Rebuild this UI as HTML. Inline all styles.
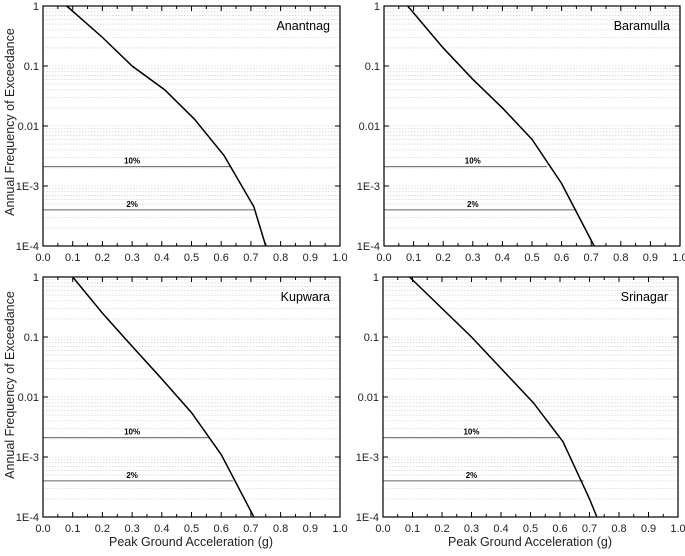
<!DOCTYPE html>
<html><head><meta charset="utf-8"><style>
body{margin:0;background:#fff}
svg{display:block;font-family:"Liberation Sans",Arial,sans-serif}
</style></head><body>
<svg id="c" width="685" height="556"></svg>
<script>
const xTicks=[0.0,0.1,0.2,0.3,0.4,0.5,0.6,0.7,0.8,0.9,1.0];
const yTickVals=[1,0.1,0.01,0.001,0.0001];
const yTickLabels=["1","0.1","0.01","1E-3","1E-4"];
const names=["Anantnag","Baramulla","Kupwara","Srinagar"];
const pgaAnantnag=[0.08,0.2,0.3,0.41,0.51,0.61,0.71,0.75];
const afeAnantnag=[1,0.3,0.1,0.04,0.013,0.0032,0.00045,0.0001];
const pgaBaramulla=[0.08,0.2,0.3,0.4,0.5,0.6,0.71];
const afeBaramulla=[1,0.2,0.06,0.02,0.006,0.0011,0.0001];
const pgaKupwara=[0.1,0.2,0.3,0.4,0.5,0.6,0.71];
const afeKupwara=[1,0.25,0.07,0.02,0.0055,0.0011,0.0001];
const pgaSrinagar=[0.09,0.3,0.4,0.51,0.61,0.7,0.725];
const afeSrinagar=[1,0.1,0.03,0.008,0.0018,0.0002,0.0001];
const levelValues=[0.0021,0.0004];
const levelLabels=["10%","2%"];
const levelEndAnantnag=[0.63,0.71];
const levelEndBaramulla=[0.55,0.65];
const levelEndKupwara=[0.56,0.64];
const levelEndSrinagar=[0.60,0.68];

const pgas=[pgaAnantnag,pgaBaramulla,pgaKupwara,pgaSrinagar];
const afes=[afeAnantnag,afeBaramulla,afeKupwara,afeSrinagar];
const ends=[levelEndAnantnag,levelEndBaramulla,levelEndKupwara,levelEndSrinagar];
const panels=[{x0:43,x1:340,y0:6,y1:246},{x0:384,x1:680,y0:6,y1:246},{x0:43,x1:340,y0:277,y1:517},{x0:383,x1:678,y0:277,y1:517}];
const svg=document.getElementById('c');
const NS="http://www.w3.org/2000/svg";
function mk(t,a,p){const e=document.createElementNS(NS,t);for(const k in a)e.setAttribute(k,a[k]);(p||svg).appendChild(e);return e;}
panels.forEach((P,i)=>{
  const g=mk('g',{});
  
  
  const X=v=>P.x0+v*(P.x1-P.x0);
  const Y=v=>P.y0+(-Math.log10(v))/4*(P.y1-P.y0);
  for(let d=0;d<4;d++)for(let m=1;m<10;m++){
    const v=m*Math.pow(10,-d-1);const y=Y(v);
    const l=mk('line',{x1:P.x0,x2:P.x1,y1:y,y2:y,stroke:'#c8c8c8','stroke-width':0.6,'stroke-dasharray':'1.5,1.5'},g);
    
  }
  xTicks.forEach(t=>{
    mk('line',{x1:X(t),x2:X(t),y1:P.y1,y2:P.y1-5,stroke:'#000','stroke-width':1},g);
    mk('line',{x1:X(t),x2:X(t),y1:P.y0,y2:P.y0+5,stroke:'#000','stroke-width':1},g);
    if(t<1){mk('line',{x1:X(t+0.05),x2:X(t+0.05),y1:P.y1,y2:P.y1-3,stroke:'#000'},g);mk('line',{x1:X(t+0.05),x2:X(t+0.05),y1:P.y0,y2:P.y0+3,stroke:'#000'},g);}
    const tx=mk('text',{x:X(t),y:P.y1+15,'font-size':11,'text-anchor':'middle',fill:'#222'},g);
    tx.textContent=t.toFixed(1);
    
  });
  yTickVals.forEach((v,j)=>{
    const y=Y(v);
    mk('line',{x1:P.x0,x2:P.x0+5,y1:y,y2:y,stroke:'#000'},g);
    mk('line',{x1:P.x1,x2:P.x1-5,y1:y,y2:y,stroke:'#000'},g);
    const tx=mk('text',{x:P.x0-4,y:y+4,'font-size':11,'text-anchor':'end',fill:'#222'},g);
    tx.textContent=yTickLabels[j];
    
  });
  levelValues.forEach((v,j)=>{
    const l=mk('line',{x1:P.x0,x2:X(ends[i][j]),y1:Y(v),y2:Y(v),stroke:'#666','stroke-width':1},g);
    
    const tx=mk('text',{x:X(0.3),y:Y(v)-3,'font-size':8,'font-weight':'bold','text-anchor':'middle'},g);
    tx.textContent=levelLabels[j];
    
  });
  const pts=pgas[i].map((p,k)=>X(p)+','+Y(afes[i][k])).join(' ');
  const pl=mk('polyline',{points:pts,fill:'none',stroke:'#000','stroke-width':1.5},g);
  
  const fr=mk('rect',{x:P.x0,y:P.y0,width:P.x1-P.x0,height:P.y1-P.y0,fill:'none',stroke:'#000','stroke-width':1.2},g);
  
  const nm=mk('text',{x:P.x1-10,y:P.y0+24,'font-size':12.5,'text-anchor':'end'},g);
  nm.textContent=names[i];
  
});
[[191,546],[530,546]].forEach(p=>{
  const t=mk('text',{x:p[0],y:p[1],'font-size':12.5,'text-anchor':'middle',fill:'#222'});
  t.textContent='Peak Ground Acceleration (g)';
  
});
[122,385].forEach(cy=>{
  const yt=mk('text',{x:0,y:0,'font-size':12.5,'text-anchor':'middle',fill:'#222',transform:'translate(14,'+cy+') rotate(-90)'});
  yt.textContent='Annual Frequency of Exceedance';
  
});
</script>
</body></html>
